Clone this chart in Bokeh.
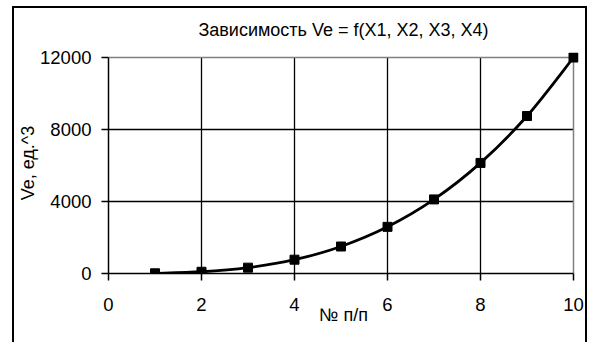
from bokeh.plotting import figure
from bokeh.models import FixedTicker, Range1d, InlineStyleSheet
from bokeh.embed import file_html
from bokeh.resources import INLINE

# Row number (№ п/п) and Ve value for each row
n = [1, 2, 3, 4, 5, 6, 7, 8, 9, 10]
ve = [12, 96, 324, 768, 1500, 2592, 4116, 6144, 8748, 12000]

x_ticks = [0, 2, 4, 6, 8, 10]
y_ticks = [0, 4000, 8000, 12000]

FONT = "Liberation Sans"
X_MAX, Y_MAX = 10, 12000

# a little headroom past the plot area so the last marker is not cut off
p = figure(width=589, height=342, output_backend="svg", toolbar_location=None,
           x_range=Range1d(0, X_MAX + 5 / 46.5), y_range=Range1d(0, Y_MAX + 5 * Y_MAX / 216),
           min_border_left=108, min_border_right=11, min_border_top=52, min_border_bottom=69)

p.background_fill_color = None
p.border_fill_color = None
p.outline_line_color = None
p.xgrid.visible = False
p.ygrid.visible = False

p.title.text = "Зависимость Ve = f(X1, X2, X3, X4)"
p.title.align = "center"
p.title.text_font = FONT
p.title.text_font_size = "18px"
p.title.text_font_style = "normal"
p.title.text_color = "black"
p.title.standoff = 25

for ax in (p.xaxis[0], p.yaxis[0]):
    ax.axis_line_color = "black"
    ax.axis_line_width = 1.5
    ax.major_tick_line_color = "black"
    ax.major_tick_line_width = 1.5
    ax.major_tick_out = 7
    ax.major_tick_in = 0
    ax.minor_tick_line_color = None
    ax.major_label_text_font = FONT
    ax.major_label_text_font_size = "18.5px"
    ax.major_label_text_color = "black"
    ax.axis_label_text_font = FONT
    ax.axis_label_text_font_size = "18px"
    ax.axis_label_text_font_style = "normal"
    ax.axis_label_text_color = "black"

p.xaxis.ticker = FixedTicker(ticks=x_ticks)
p.yaxis.ticker = FixedTicker(ticks=y_ticks)
p.xaxis.bounds = (0, X_MAX)
p.yaxis.bounds = (0, Y_MAX)
p.xaxis.major_label_standoff = 17
p.yaxis.major_label_standoff = 10
p.xaxis.axis_label = "№ п/п"
p.yaxis.axis_label = "Ve, ед.^3"
p.xaxis.axis_label_standoff = -9
p.yaxis.axis_label_standoff = -1

# inner grid lines in black, plot-area top and right edges in grey
gx = [t for t in x_ticks if 0 < t < X_MAX]
gy = [t for t in y_ticks if 0 < t < Y_MAX]
p.segment(x0=gx, y0=[0] * len(gx), x1=gx, y1=[Y_MAX] * len(gx),
          line_color="black", line_width=1.3)
p.segment(x0=[0] * len(gy), y0=gy, x1=[X_MAX] * len(gy), y1=gy,
          line_color="black", line_width=1.3)
p.segment(x0=[0, X_MAX], y0=[Y_MAX, 0], x1=[X_MAX, X_MAX], y1=[Y_MAX, Y_MAX],
          line_color="#808080", line_width=1.5)

# smoothed curve through the points (Catmull-Rom segments as cubic Beziers)
x0, y0, x1, y1, cx0, cy0, cx1, cy1 = [], [], [], [], [], [], [], []
m = len(n)
for i in range(m - 1):
    xa, ya = n[i], ve[i]
    xb, yb = n[i + 1], ve[i + 1]
    xp, yp = (n[i - 1], ve[i - 1]) if i > 0 else (xa, ya)
    xn, yn = (n[i + 2], ve[i + 2]) if i + 2 < m else (xb, yb)
    x0.append(xa); y0.append(ya); x1.append(xb); y1.append(yb)
    cx0.append(xa + (xb - xp) / 6); cy0.append(ya + (yb - yp) / 6)
    cx1.append(xb - (xn - xa) / 6); cy1.append(yb - (yn - ya) / 6)

p.bezier(x0=x0, y0=y0, x1=x1, y1=y1, cx0=cx0, cy0=cy0, cx1=cx1, cy1=cy1,
         line_color="black", line_width=2.8)
p.scatter(n, ve, marker="square", size=9, fill_color="black", line_color="black")

# outer chart border (open at the bottom edge of the page)
p.stylesheets = [InlineStyleSheet(css="""
:host { position: relative; background: white; }
:host::after {
  content: ""; position: absolute; z-index: 100; pointer-events: none;
  left: 12px; top: 6px; width: 575px; height: 336px; box-sizing: border-box;
  border: 2px solid black; border-bottom: none;
}
""")]

open("out.html", "w").write(file_html(p, INLINE))
